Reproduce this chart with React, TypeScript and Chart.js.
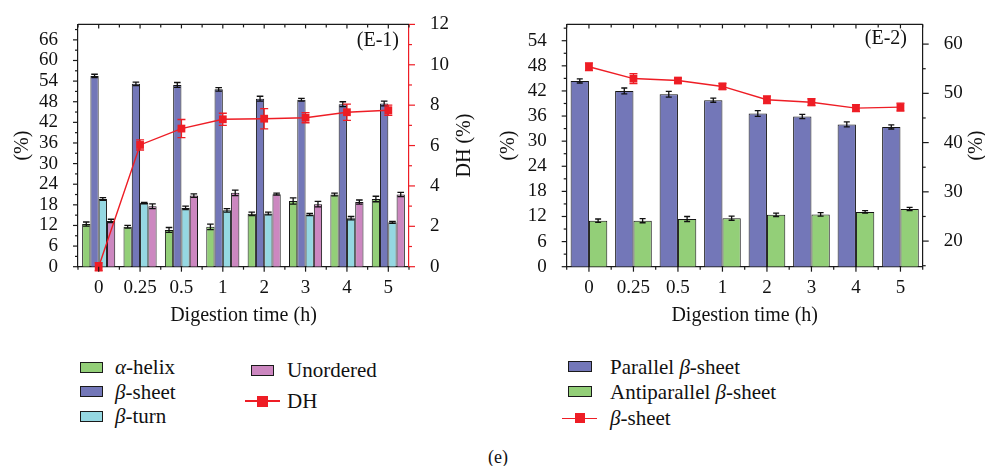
import React, { useEffect, useRef } from "react";
import { Chart, registerables } from "chart.js";

Chart.register(...registerables);

// ---------- data ----------
const timeLabels = ["0", "0.25", "0.5", "1", "2", "3", "4", "5"];

// Panel E-1 (left axis, %)
const alphaHelix = [12.4, 11.6, 10.7, 11.6, 15.4, 19.1, 21.0, 19.7];
const alphaHelixErr = [0.6, 0.4, 0.7, 0.8, 0.5, 0.9, 0.4, 0.8];
const betaSheet = [55.5, 53.2, 52.9, 51.6, 48.9, 48.6, 47.3, 47.5];
const betaSheetErr = [0.5, 0.5, 0.7, 0.5, 0.7, 0.4, 0.7, 0.7];
const betaTurn = [19.7, 18.5, 17.1, 16.4, 15.5, 15.2, 14.1, 12.9];
const betaTurnErr = [0.4, 0.2, 0.5, 0.5, 0.4, 0.3, 0.5, 0.3];
const unordered = [13.3, 17.6, 20.7, 21.5, 21.1, 18.2, 18.8, 21.0];
const unorderedErr = [0.5, 0.7, 0.5, 0.8, 0.3, 0.8, 0.6, 0.6];
// Panel E-1 (right axis, DH %)
const dh = [0, 6.03, 6.84, 7.3, 7.33, 7.38, 7.65, 7.75];
const dhErr = [0.2, 0.25, 0.45, 0.3, 0.5, 0.25, 0.4, 0.25];

// Panel E-2 (left axis, %)
const parallelSheet = [44.4, 42.0, 41.2, 39.8, 36.6, 35.9, 34.0, 33.4];
const parallelSheetErr = [0.5, 0.7, 0.7, 0.5, 0.7, 0.5, 0.6, 0.5];
const antiparallelSheet = [11.0, 11.0, 11.4, 11.6, 12.4, 12.5, 13.1, 13.8];
const antiparallelSheetErr = [0.4, 0.5, 0.6, 0.5, 0.4, 0.4, 0.3, 0.4];
// Panel E-2 (right axis, %)
const totalSheet = [55.4, 53.0, 52.6, 51.4, 48.7, 48.2, 47.0, 47.2];
const totalSheetErr = [0.8, 1.0, 0.5, 0.6, 0.8, 0.7, 0.7, 0.8];

// tick labels
const leftTicks1 = [0, 6, 12, 18, 24, 30, 36, 42, 48, 54, 60, 66];
const rightTicks1 = [0, 2, 4, 6, 8, 10, 12];
const leftTicks2 = [0, 6, 12, 18, 24, 30, 36, 42, 48, 54];
const rightTicks2 = [20, 30, 40, 50, 60];

// ---------- styles ----------
const SERIF = "'Liberation Serif', 'Times New Roman', Times, serif";
const GREEN = "#93cf78";
const BLUE = "#7377b8";
const CYAN = "#95d8e2";
const PINK = "#cc87c0";
const RED = "#ee1d25";
const AXIS = "#1a1a1a";
const TEXT = "#111111";

Chart.defaults.font.family = SERIF;

type Spec = {
  leftTicks: number[];
  leftStep: number;
  rightTicks: number[];
  rightStep: number;
  rightColor: string;
  leftTitle: string;
  leftTitleX: number;
  rightTitle: string;
  rightTitleX: number;
  xTitle: string;
  xTitleY: number;
  panelLabel: string;
  panelLabelRight: number;
  panelLabelY: number;
};

function minorValues(majors: number[], step: number, min: number, max: number) {
  const out: number[] = [];
  const first = majors[0] - step / 2;
  if (first >= min) out.push(first);
  majors.forEach((v) => {
    const m = v + step / 2;
    if (m <= max) out.push(m);
  });
  return out;
}

function framePlugin(spec: Spec) {
  return {
    id: "frame",
    afterDatasetDraw(chart: any, args: any) {
      const ds = chart.data.datasets[args.index];
      if (!ds.errors) return;
      const meta = args.meta;
      const yScale = chart.scales[meta.yAxisID];
      const ctx = chart.ctx;
      ctx.save();
      ctx.strokeStyle = ds.errColor;
      ctx.lineWidth = 1.3;
      meta.data.forEach((el: any, i: number) => {
        const v = ds.data[i];
        const e = ds.errors[i];
        const x = el.x;
        const y1 = yScale.getPixelForValue(v + e);
        const y2 = yScale.getPixelForValue(v - e);
        const c = ds.capHalf;
        ctx.beginPath();
        ctx.moveTo(x, y1);
        ctx.lineTo(x, y2);
        ctx.moveTo(x - c, y1);
        ctx.lineTo(x + c, y1);
        ctx.moveTo(x - c, y2);
        ctx.lineTo(x + c, y2);
        ctx.stroke();
      });
      ctx.restore();
    },
    afterDraw(chart: any) {
      const ctx = chart.ctx;
      const { left, right, top, bottom } = chart.chartArea;
      const xs = chart.scales.x;
      const yl = chart.scales.y;
      const yr = chart.scales.y1;
      const line = (a: number, b: number, c: number, d: number) => {
        ctx.beginPath();
        ctx.moveTo(a, b);
        ctx.lineTo(c, d);
        ctx.stroke();
      };
      ctx.save();
      ctx.lineWidth = 1.2;
      ctx.strokeStyle = AXIS;
      // top frame line
      line(left, top, right, top);
      const n = xs.getLabels().length;
      for (let i = 0; i < n; i++) {
        const px = xs.getPixelForValue(i);
        line(px, bottom, px, bottom + 5);
        line(px, top, px, top + 4);
      }
      for (let i = 0; i <= n; i++) {
        const px = xs.getPixelForValue(i - 0.5);
        line(px, bottom, px, bottom + 3);
        line(px, top, px, top + 3);
      }
      // left axis ticks
      spec.leftTicks.forEach((v) => {
        const py = yl.getPixelForValue(v);
        line(left - 5, py, left, py);
      });
      minorValues(spec.leftTicks, spec.leftStep, yl.min, yl.max).forEach((v) => {
        const py = yl.getPixelForValue(v);
        line(left - 3, py, left, py);
      });
      // right axis ticks
      ctx.strokeStyle = spec.rightColor;
      spec.rightTicks.forEach((v) => {
        const py = yr.getPixelForValue(v);
        line(right, py, right + 6, py);
      });
      minorValues(spec.rightTicks, spec.rightStep, yr.min, yr.max).forEach((v) => {
        const py = yr.getPixelForValue(v);
        line(right, py, right + 3, py);
      });
      // titles
      ctx.fillStyle = TEXT;
      ctx.font = `20px ${SERIF}`;
      ctx.textAlign = "center";
      ctx.textBaseline = "middle";
      const cy = (top + bottom) / 2;
      const rot = (x: number, text: string) => {
        ctx.save();
        ctx.translate(x, cy);
        ctx.rotate(-Math.PI / 2);
        ctx.fillText(text, 0, 0);
        ctx.restore();
      };
      rot(spec.leftTitleX, spec.leftTitle);
      rot(spec.rightTitleX, spec.rightTitle);
      ctx.fillText(spec.xTitle, (left + right) / 2, spec.xTitleY);
      ctx.textAlign = "right";
      ctx.fillText(spec.panelLabel, spec.panelLabelRight, spec.panelLabelY);
      ctx.restore();
    },
  };
}

function baseScales(opts: {
  xHeight: number;
  leftWidth: number;
  rightWidth: number;
  leftMin: number;
  leftMax: number;
  rightMin: number;
  rightMax: number;
  leftTicks: number[];
  rightTicks: number[];
  rightColor: string;
  leftPad: number;
  rightPad: number;
}) {
  const tickFont = { family: SERIF, size: 19 };
  return {
    x: {
      type: "category",
      offset: true,
      grid: { display: false },
      border: { display: true, color: AXIS, width: 1.2 },
      ticks: { font: tickFont, color: TEXT, padding: 2, maxRotation: 0, autoSkip: false },
      afterFit: (s: any) => {
        s.height = opts.xHeight;
      },
    },
    y: {
      position: "left",
      min: opts.leftMin,
      max: opts.leftMax,
      grid: { display: false },
      border: { display: true, color: AXIS, width: 1.2 },
      ticks: { font: tickFont, color: TEXT, padding: opts.leftPad, autoSkip: false },
      afterBuildTicks: (s: any) => {
        s.ticks = opts.leftTicks.map((v) => ({ value: v }));
      },
      afterFit: (s: any) => {
        s.width = opts.leftWidth;
      },
    },
    y1: {
      position: "right",
      min: opts.rightMin,
      max: opts.rightMax,
      grid: { display: false },
      border: { display: true, color: opts.rightColor, width: 1.2 },
      ticks: { font: tickFont, color: TEXT, padding: opts.rightPad, autoSkip: false },
      afterBuildTicks: (s: any) => {
        s.ticks = opts.rightTicks.map((v) => ({ value: v }));
      },
      afterFit: (s: any) => {
        s.width = opts.rightWidth;
      },
    },
  };
}

function barDs(label: string, data: number[], errors: number[], color: string, catPct: number, cap: number) {
  return {
    type: "bar",
    label,
    data,
    errors,
    errColor: "#111",
    capHalf: cap,
    yAxisID: "y",
    order: 1,
    backgroundColor: color,
    borderColor: "#151515",
    borderWidth: 1,
    categoryPercentage: catPct,
    barPercentage: 1,
  };
}

function lineDs(label: string, data: number[], errors: number[]) {
  return {
    type: "line",
    label,
    data,
    errors,
    errColor: RED,
    capHalf: 4,
    yAxisID: "y1",
    order: 0,
    borderColor: RED,
    backgroundColor: RED,
    borderWidth: 1.4,
    pointStyle: "rect",
    pointRadius: 5.5,
    pointHoverRadius: 5.5,
    pointBorderWidth: 0,
    pointBackgroundColor: RED,
    tension: 0,
    clip: false,
  };
}

const W1 = 490;
const W2 = 495;
const H = 330;

function config1(): any {
  const spec: Spec = {
    leftTicks: leftTicks1,
    leftStep: 6,
    rightTicks: rightTicks1,
    rightStep: 2,
    rightColor: RED,
    leftTitle: "(%)",
    leftTitleX: 23,
    rightTitle: "DH (%)",
    rightTitleX: 465,
    xTitle: "Digestion time (h)",
    xTitleY: 316,
    panelLabel: "(E-1)",
    panelLabelRight: 399,
    panelLabelY: 41,
  };
  return {
    type: "bar",
    data: {
      labels: timeLabels,
      datasets: [
        lineDs("DH", dh, dhErr),
        barDs("α-helix", alphaHelix, alphaHelixErr, GREEN, 0.8, 3.3),
        barDs("β-sheet", betaSheet, betaSheetErr, BLUE, 0.8, 3.3),
        barDs("β-turn", betaTurn, betaTurnErr, CYAN, 0.8, 3.3),
        barDs("Unordered", unordered, unorderedErr, PINK, 0.8, 3.3),
      ],
    },
    options: {
      responsive: false,
      animation: false,
      events: [],
      layout: { padding: { top: 20, left: 0, right: 0, bottom: 0 } },
      plugins: { legend: { display: false }, tooltip: { enabled: false } },
      scales: baseScales({
        xHeight: H - 266.7,
        leftWidth: 78,
        rightWidth: W1 - 409,
        leftMin: 0,
        leftMax: 70.5,
        rightMin: 0,
        rightMax: 12,
        leftTicks: leftTicks1,
        rightTicks: rightTicks1,
        rightColor: RED,
        leftPad: 12,
        rightPad: 13,
      }),
    },
    plugins: [framePlugin(spec)],
  };
}

function config2(): any {
  const spec: Spec = {
    leftTicks: leftTicks2,
    leftStep: 6,
    rightTicks: rightTicks2,
    rightStep: 10,
    rightColor: AXIS,
    leftTitle: "(%)",
    leftTitleX: 19,
    rightTitle: "(%)",
    rightTitleX: 487,
    xTitle: "Digestion time (h)",
    xTitleY: 316,
    panelLabel: "(E-2)",
    panelLabelRight: 417,
    panelLabelY: 39,
  };
  return {
    type: "bar",
    data: {
      labels: timeLabels,
      datasets: [
        lineDs("β-sheet", totalSheet, totalSheetErr),
        barDs("Parallel β-sheet", parallelSheet, parallelSheetErr, BLUE, 0.824, 3),
        barDs("Antiparallel β-sheet", antiparallelSheet, antiparallelSheetErr, GREEN, 0.824, 3),
      ],
    },
    options: {
      responsive: false,
      animation: false,
      events: [],
      layout: { padding: { top: 20, left: 0, right: 0, bottom: 0 } },
      plugins: { legend: { display: false }, tooltip: { enabled: false } },
      scales: baseScales({
        xHeight: H - 266.7,
        leftWidth: 76.7,
        rightWidth: W2 - 432.7,
        leftMin: 0,
        leftMax: 57.9,
        rightMin: 14.8,
        rightMax: 64,
        leftTicks: leftTicks2,
        rightTicks: rightTicks2,
        rightColor: AXIS,
        leftPad: 12,
        rightPad: 13,
      }),
    },
    plugins: [framePlugin(spec)],
  };
}

function ChartCanvas({ left, width, make }: { left: number; width: number; make: () => any }) {
  const ref = useRef<HTMLCanvasElement>(null);
  useEffect(() => {
    const chart = new Chart(ref.current as HTMLCanvasElement, make());
    return () => chart.destroy();
  }, []);
  return (
    <canvas
      ref={ref}
      width={width}
      height={H}
      style={{ position: "absolute", left, top: 0, width, height: H }}
    />
  );
}

function Swatch({ x, w, y, color }: { x: number; w: number; y: number; color: string }) {
  return (
    <div
      style={{
        position: "absolute",
        left: x,
        top: y - 5.5,
        width: w,
        height: 11,
        background: color,
        border: "1.5px solid #1a1a1a",
        boxSizing: "border-box",
      }}
    />
  );
}

function LineSwatch({ x1, x2, y, sx, s }: { x1: number; x2: number; y: number; sx: number; s: number }) {
  return (
    <>
      <div style={{ position: "absolute", left: x1, top: y - 0.75, width: x2 - x1, height: 1.5, background: RED }} />
      <div style={{ position: "absolute", left: sx, top: y - s / 2, width: s, height: s, background: RED }} />
    </>
  );
}

function Label({ x, y, children }: { x: number; y: number; children: React.ReactNode }) {
  return (
    <div
      style={{
        position: "absolute",
        left: x,
        top: y - 12,
        height: 24,
        lineHeight: "24px",
        fontFamily: SERIF,
        fontSize: 21,
        color: TEXT,
        whiteSpace: "nowrap",
      }}
    >
      {children}
    </div>
  );
}

export default function App() {
  return (
    <div
      style={{
        position: "fixed",
        left: 0,
        top: 0,
        width: 985,
        height: 466,
        background: "#ffffff",
        overflow: "hidden",
      }}
    >
      <ChartCanvas left={0} width={W1} make={config1} />
      <ChartCanvas left={490} width={W2} make={config2} />

      {/* legend E-1 */}
      <Swatch x={79.5} w={23} y={367} color={GREEN} />
      <Label x={115} y={367}>
        <i>α</i>-helix
      </Label>
      <Swatch x={79.5} w={23} y={391.7} color={BLUE} />
      <Label x={115} y={391.7}>
        <i>β</i>-sheet
      </Label>
      <Swatch x={79.5} w={23} y={416} color={CYAN} />
      <Label x={115} y={416}>
        <i>β</i>-turn
      </Label>
      <Swatch x={251} w={22.5} y={370} color={PINK} />
      <Label x={287} y={370}>
        Unordered
      </Label>
      <LineSwatch x1={245} x2={280} y={401} sx={257} s={11} />
      <Label x={287} y={401}>
        DH
      </Label>

      {/* legend E-2 */}
      <Swatch x={567.5} w={24} y={366.7} color={BLUE} />
      <Label x={610} y={366.7}>
        Parallel <i>β</i>-sheet
      </Label>
      <Swatch x={567.5} w={24} y={391.7} color={GREEN} />
      <Label x={610} y={391.7}>
        Antiparallel <i>β</i>-sheet
      </Label>
      <LineSwatch x1={561.7} x2={596.7} y={418.3} sx={575} s={10} />
      <Label x={610} y={418.3}>
        <i>β</i>-sheet
      </Label>

      <div
        style={{
          position: "absolute",
          left: 478,
          top: 446,
          width: 40,
          textAlign: "center",
          fontFamily: SERIF,
          fontSize: 18,
          lineHeight: "22px",
          color: TEXT,
        }}
      >
        (e)
      </div>
    </div>
  );
}
